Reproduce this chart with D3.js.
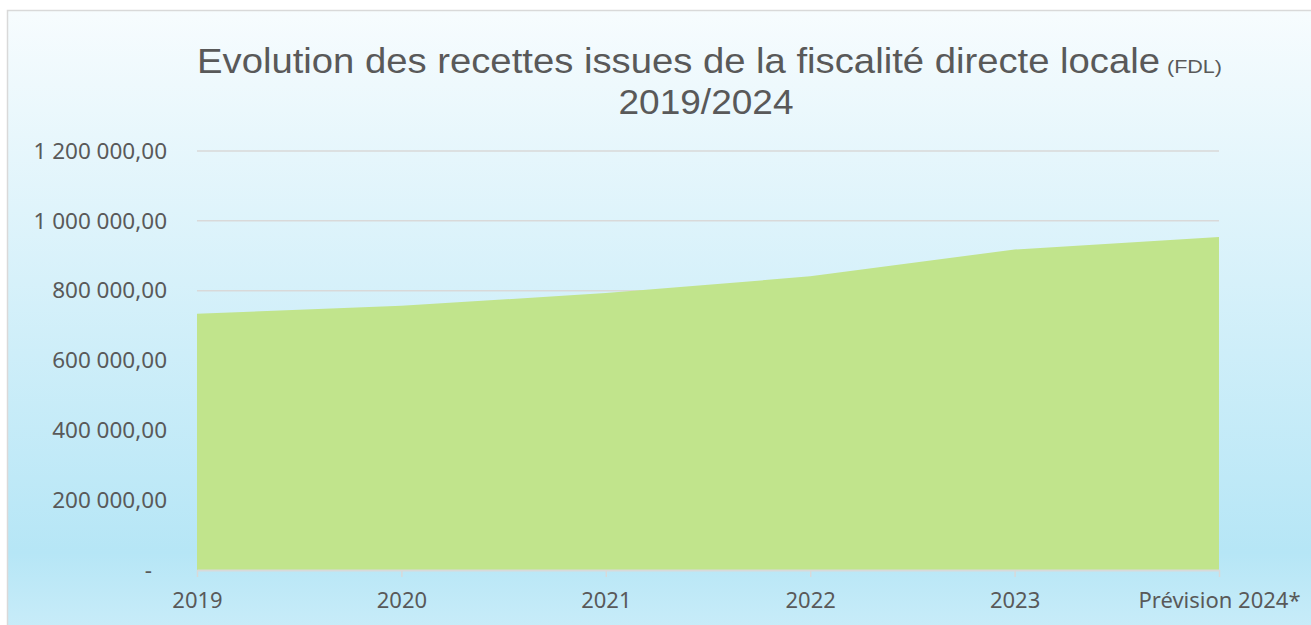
<!DOCTYPE html>
<html lang="fr">
    <head>
        <meta charset="UTF-8">
        <title>Evolution FDL 2019/2024</title>
        <script src="https://d3js.org/d3.v7.min.js"></script>
    </head>
    <style>
        body { margin: 0; background: white; }
        text { font-family: "Noto Sans", "Open Sans", sans-serif; fill: #595959; }
        text.titre { font-family: "Liberation Sans", Arial, sans-serif; }
    </style>
    <body>
        <svg width="1311" height="625"></svg>
        <script>
            var annees = ["2019", "2020", "2021", "2022", "2023", "Prévision 2024*"];
            var recettes = [734000, 757000, 793000, 841000, 918000, 954000];
            var graduations = [0, 200000, 400000, 600000, 800000, 1000000, 1200000];
            var titre = "Evolution des recettes issues de la fiscalité directe locale";
            var sousTitre = "(FDL)";
            var periode = "2019/2024";

            var svg = d3.select("svg");

            // fond degrade + bordure
            var grad = svg.append("defs").append("linearGradient")
                .attr("id", "fond").attr("x1", 0).attr("y1", 0).attr("x2", 0).attr("y2", 1);
            grad.append("stop").attr("offset", "0%").attr("stop-color", "#f7fcfe");
            grad.append("stop").attr("offset", "86%").attr("stop-color", "#b6e6f6");
            grad.append("stop").attr("offset", "100%").attr("stop-color", "#cbedf9");

            svg.append("rect")
                .attr("x", 7.5).attr("y", 10.5)
                .attr("width", 1320).attr("height", 630)
                .attr("fill", "url(#fond)")
                .attr("stroke", "#d9d9d9").attr("stroke-width", 1.5);

            var x = d3.scalePoint().domain(annees).range([197, 1219]);
            var y = d3.scaleLinear().domain([0, 1200000]).range([570, 151]);

            var fr = d3.formatLocale({decimal: ",", thousands: " ", grouping: [3], currency: ["", ""]});
            var fmt = fr.format(",.2f");

            // grille horizontale
            svg.append("g")
                .selectAll("line")
                .data(graduations.filter(function(d) { return d > 0; }))
                .enter()
                .append("line")
                .attr("x1", 197).attr("x2", 1219)
                .attr("y1", function(d) { return y(d); })
                .attr("y2", function(d) { return y(d); })
                .attr("stroke", "#d9d9d9").attr("stroke-width", 1.5);

            // aire
            var aire = d3.area()
                .x(function(d, i) { return x(annees[i]); })
                .y0(y(0))
                .y1(function(d) { return y(d); });

            svg.append("path")
                .datum(recettes)
                .attr("d", aire)
                .attr("fill", "#c1e48c");

            // axe Y
            var axeY = svg.append("g")
                .attr("transform", "translate(" + 182 + "," + 0 + ")")
                .call(d3.axisLeft(y).tickValues(graduations).tickSize(0).tickPadding(15)
                    .tickFormat(function(d) { return d === 0 ? "-" : fmt(d); }));
            axeY.select(".domain").remove();
            axeY.selectAll("text")
                .style("font-size", "22.5px")
                .attr("fill", "#595959")
                .attr("dx", function(d) { return d === 0 ? -15 : 0; });

            // axe X
            var axeX = svg.append("g")
                .attr("transform", "translate(" + 0 + "," + 570 + ")")
                .call(d3.axisBottom(x).tickSize(7).tickPadding(15).tickSizeOuter(0));
            axeX.select(".domain").attr("stroke", "#d9d9d9").attr("stroke-width", 2);
            axeX.selectAll(".tick line").attr("stroke", "#d9d9d9").attr("stroke-width", 1.5);
            axeX.selectAll("text")
                .style("font-size", "22px")
                .attr("fill", "#595959");

            // titre
            svg.append("text")
                .attr("class", "titre")
                .attr("x", 197).attr("y", 73)
                .attr("textLength", 963).attr("lengthAdjust", "spacingAndGlyphs")
                .style("font-size", "35px")
                .text(titre);
            svg.append("text")
                .attr("class", "titre")
                .attr("x", 1167).attr("y", 73)
                .attr("textLength", 55).attr("lengthAdjust", "spacingAndGlyphs")
                .style("font-size", "18px")
                .text(sousTitre);
            svg.append("text")
                .attr("class", "titre")
                .attr("x", 706).attr("y", 114)
                .attr("text-anchor", "middle")
                .attr("textLength", 175).attr("lengthAdjust", "spacingAndGlyphs")
                .style("font-size", "35px")
                .text(periode);
        </script>
    </body>
</html>
